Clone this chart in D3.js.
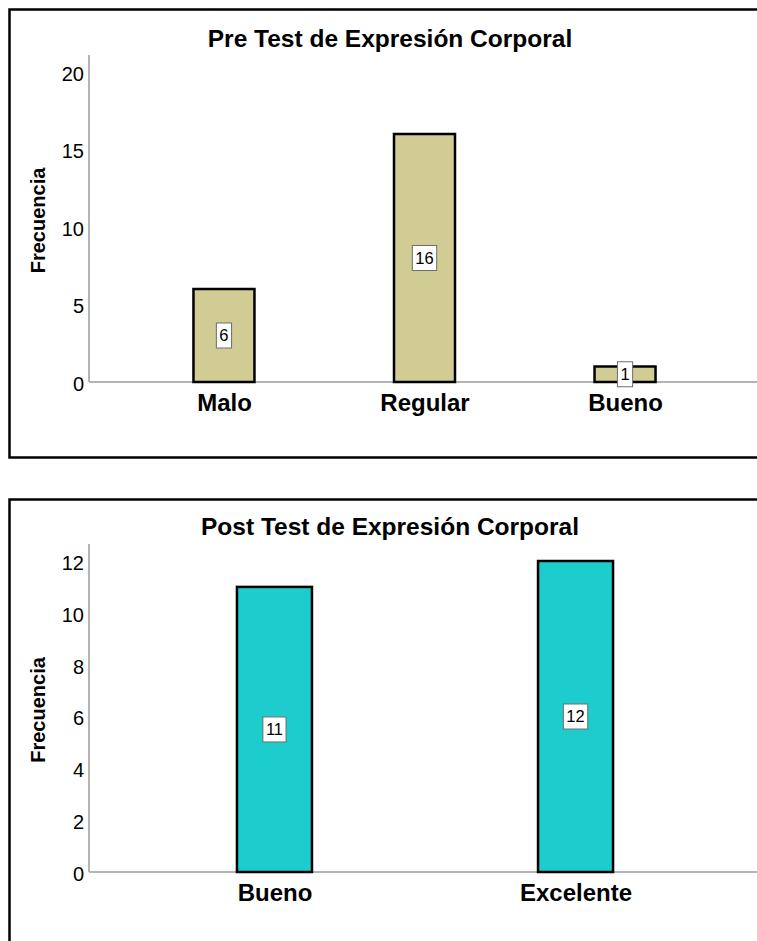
<!DOCTYPE html>
<html>
<head>
<meta charset="utf-8">
<script src="https://cdn.jsdelivr.net/npm/d3@7"></script>
<style>
  html, body { margin: 0; padding: 0; background: #fff; }
  svg { display: block; font-family: "Liberation Sans", Arial, sans-serif; }
</style>
</head>
<body>
<svg id="chart" width="757" height="941"></svg>
<script>
// Frequency tables
const preCategories = ["Malo", "Regular", "Bueno"];
const preValues = [6, 16, 1];
const preTicks = [0, 5, 10, 15, 20];

const postCategories = ["Bueno", "Excelente"];
const postValues = [11, 12];
const postTicks = [0, 2, 4, 6, 8, 10, 12];

const yTitle = "Frecuencia";

const svg = d3.select("#chart");

const panels = [
  {
    title: "Pre Test de Expresión Corporal",
    categories: preCategories, values: preValues, ticks: preTicks,
    yMax: 20, frame: [9.5, 9.5, 800, 448],
    titleY: 47, axisTop: 55, y0: 382, y1: 72,
    xPad: 0.673, xEnd: 760, barW: 61, fill: "#d1cc93"
  },
  {
    title: "Post Test de Expresión Corporal",
    categories: postCategories, values: postValues, ticks: postTicks,
    yMax: 12, frame: [9.5, 499.5, 800, 500],
    titleY: 535, axisTop: 544, y0: 872, y1: 561,
    xPad: 0.616, xEnd: 761, barW: 75, fill: "#1dcdcd"
  }
];

const axisX = 89;

panels.forEach(p => {
  const g = svg.append("g");

  // outer frame
  g.append("rect")
    .attr("x", p.frame[0]).attr("y", p.frame[1])
    .attr("width", p.frame[2]).attr("height", p.frame[3])
    .attr("fill", "none").attr("stroke", "#000").attr("stroke-width", 2.5);

  const y = d3.scaleLinear().domain([0, p.yMax]).range([p.y0, p.y1]);
  const x = d3.scalePoint().domain(p.categories).range([axisX, p.xEnd]).padding(p.xPad);

  // title
  g.append("text")
    .attr("x", 390).attr("y", p.titleY)
    .attr("text-anchor", "middle")
    .attr("font-size", 24.5).attr("font-weight", "bold")
    .text(p.title);

  // y axis
  const yAxis = d3.axisLeft(y).tickValues(p.ticks).tickSize(0).tickPadding(5).tickFormat(d3.format("d"));
  const ya = g.append("g").attr("transform", `translate(${axisX},0)`).call(yAxis);
  ya.select(".domain").remove();
  ya.selectAll("text")
    .attr("font-family", "Liberation Sans, Arial, sans-serif")
    .attr("font-size", 20).attr("fill", "#000").attr("dy", "0.42em");
  g.append("line")
    .attr("x1", axisX).attr("x2", axisX)
    .attr("y1", p.axisTop).attr("y2", p.y0)
    .attr("stroke", "#b4b4b4").attr("stroke-width", 2);

  // y axis title
  g.append("text")
    .attr("transform", `translate(45,${(p.axisTop + p.y0) / 2 + 2}) rotate(-90)`)
    .attr("text-anchor", "middle")
    .attr("font-size", 20).attr("font-weight", "bold")
    .text(yTitle);

  // baseline
  g.append("line")
    .attr("x1", axisX).attr("x2", 757)
    .attr("y1", p.y0).attr("y2", p.y0)
    .attr("stroke", "#b4b4b4").attr("stroke-width", 2);

  // x axis labels
  const xAxis = d3.axisBottom(x).tickSize(0).tickPadding(12);
  const xa = g.append("g").attr("transform", `translate(0,${p.y0})`).call(xAxis);
  xa.select(".domain").remove();
  xa.selectAll("text")
    .attr("font-family", "Liberation Sans, Arial, sans-serif")
    .attr("font-size", 24).attr("font-weight", "bold").attr("fill", "#000")
    .attr("dy", "0.71em");

  const data = p.categories.map((c, i) => ({ c, v: p.values[i] }));

  // bars
  g.selectAll("rect.bar").data(data).join("rect")
    .attr("class", "bar")
    .attr("x", d => x(d.c) - p.barW / 2)
    .attr("y", d => y(d.v))
    .attr("width", p.barW)
    .attr("height", d => y(0) - y(d.v))
    .attr("fill", p.fill)
    .attr("stroke", "#000").attr("stroke-width", 2.5);

  // value labels in boxes
  const lab = g.selectAll("g.lab").data(data).join("g")
    .attr("class", "lab")
    .attr("transform", d => `translate(${x(d.c)},${(y(d.v) + y(0)) / 2})`);
  lab.append("text")
    .attr("text-anchor", "middle").attr("dy", "0.36em")
    .attr("font-size", 16.5)
    .text(d => d.v)
    .each(function () {
      const w = this.getComputedTextLength();
      d3.select(this.parentNode).insert("rect", "text")
        .attr("x", -w / 2 - 3).attr("y", -12.5)
        .attr("width", w + 6).attr("height", 25)
        .attr("fill", "#fff").attr("stroke", "#6e6e6e").attr("stroke-width", 1);
    });
});
</script>
</body>
</html>
